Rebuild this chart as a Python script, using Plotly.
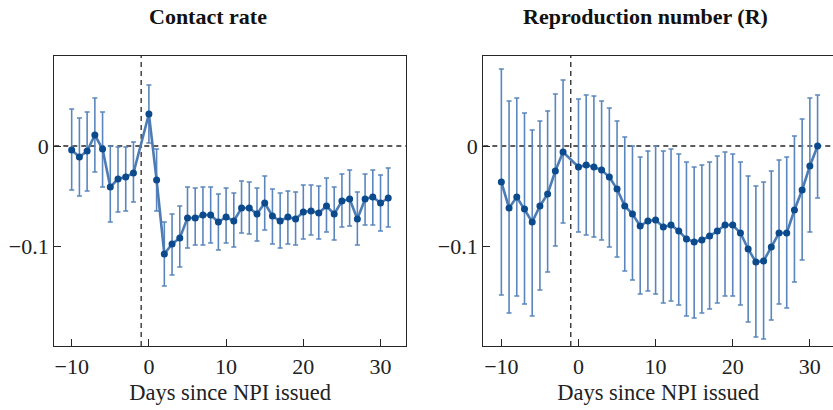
import plotly.graph_objects as go

days = [-10, -9, -8, -7, -6, -5, -4, -3, -2, 0, 1, 2, 3, 4, 5, 6, 7, 8, 9, 10,
        11, 12, 13, 14, 15, 16, 17, 18, 19, 20, 21, 22, 23, 24, 25, 26, 27, 28, 29, 30, 31]

contact_mean = [-0.004, -0.011, -0.005, 0.011, -0.003, -0.041, -0.033, -0.031, -0.027, 0.032,
                -0.034, -0.108, -0.098, -0.092, -0.072, -0.072, -0.069, -0.069, -0.076, -0.071,
                -0.075, -0.062, -0.062, -0.068, -0.057, -0.070, -0.075, -0.071, -0.073, -0.066,
                -0.065, -0.067, -0.060, -0.068, -0.055, -0.053, -0.073, -0.053, -0.051, -0.057, -0.052]
contact_hi = [0.037, 0.028, 0.034, 0.048, 0.034, 0.000, -0.001, -0.001, 0.004, 0.061,
              -0.003, -0.076, -0.068, -0.060, -0.041, -0.042, -0.041, -0.041, -0.048, -0.042,
              -0.047, -0.035, -0.036, -0.042, -0.030, -0.043, -0.047, -0.045, -0.046, -0.039,
              -0.039, -0.040, -0.032, -0.041, -0.028, -0.024, -0.046, -0.028, -0.024, -0.029, -0.022]
contact_lo = [-0.044, -0.050, -0.045, -0.026, -0.041, -0.076, -0.066, -0.065, -0.056, 0.003,
              -0.065, -0.140, -0.129, -0.121, -0.102, -0.099, -0.099, -0.097, -0.104, -0.097,
              -0.101, -0.087, -0.088, -0.095, -0.084, -0.098, -0.102, -0.098, -0.099, -0.093,
              -0.089, -0.093, -0.086, -0.094, -0.081, -0.080, -0.099, -0.079, -0.079, -0.085, -0.081]

r_mean = [-0.036, -0.062, -0.051, -0.063, -0.076, -0.060, -0.048, -0.025, -0.006, -0.021,
          -0.019, -0.021, -0.024, -0.031, -0.043, -0.060, -0.068, -0.080, -0.075, -0.074,
          -0.081, -0.079, -0.085, -0.093, -0.096, -0.094, -0.090, -0.085, -0.079, -0.079,
          -0.087, -0.103, -0.116, -0.115, -0.101, -0.087, -0.087, -0.064, -0.044, -0.020, 0.000]
r_hi = [0.077, 0.045, 0.048, 0.033, 0.016, 0.025, 0.035, 0.052, 0.066, 0.047,
        0.051, 0.050, 0.045, 0.038, 0.025, 0.009, 0.000, -0.011, -0.005, 0.000,
        -0.005, -0.003, -0.008, -0.016, -0.021, -0.019, -0.016, -0.010, -0.006, -0.008,
        -0.016, -0.030, -0.040, -0.036, -0.025, -0.014, -0.011, 0.010, 0.027, 0.048, 0.051]
r_lo = [-0.149, -0.167, -0.150, -0.158, -0.170, -0.144, -0.126, -0.100, -0.077, -0.086,
        -0.089, -0.091, -0.094, -0.101, -0.111, -0.125, -0.134, -0.148, -0.145, -0.148,
        -0.157, -0.155, -0.159, -0.170, -0.172, -0.167, -0.163, -0.157, -0.150, -0.150,
        -0.159, -0.176, -0.191, -0.193, -0.174, -0.158, -0.162, -0.136, -0.114, -0.086, -0.052]

panel_titles = ["Contact rate", "Reproduction number (R)"]
x_title = "Days since NPI issued"
x_ticks = [-10, 0, 10, 20, 30]
y_ticks = [0, -0.1]
y_ticklabels = ["0", "\u22120.1"]
x_ticklabels = ["\u221210", "0", "10", "20", "30"]

LINE = "#4d7cb4"
MARK = "#0b4a8c"
ERR = "#5a86bd"
AX = "#262626"
FONT = "Liberation Serif"

fig = go.Figure()

def add_series(mean, lo, hi, xa, ya):
    plus = [h - m for h, m in zip(hi, mean)]
    minus = [m - l for m, l in zip(mean, lo)]
    fig.add_trace(go.Scatter(
        x=days, y=mean, xaxis=xa, yaxis=ya, mode="lines+markers",
        line=dict(color=LINE, width=2.6),
        marker=dict(color=MARK, size=7),
        error_y=dict(type="data", symmetric=False, array=plus, arrayminus=minus,
                     color=ERR, thickness=1.6, width=2.5),
        showlegend=False, hoverinfo="skip"))

add_series(contact_mean, contact_lo, contact_hi, "x", "y")
add_series(r_mean, r_lo, r_hi, "x2", "y2")

axis_common = dict(
    showgrid=False, zeroline=False, showline=True, linecolor=AX, linewidth=1.3,
    ticks="inside", ticklen=7, tickwidth=1.2, tickcolor=AX,
    tickfont=dict(family=FONT, size=22, color="#222"),
)

fig.update_layout(
    width=833, height=410, margin=dict(l=0, r=0, t=0, b=0),
    paper_bgcolor="white", plot_bgcolor="white",
    font=dict(family=FONT, color="#222"),
    xaxis=dict(domain=[0.0652, 0.4874], range=[-12.25, 33.3], tickvals=x_ticks,
               ticktext=x_ticklabels, mirror=True, anchor="y",
               title=dict(text=x_title, font=dict(family=FONT, size=22.5), standoff=6),
               **axis_common),
    yaxis=dict(domain=[0.1561, 0.8634], range=[-0.2, 0.09], tickvals=y_ticks,
               ticktext=y_ticklabels, mirror=True, anchor="x", **axis_common),
    xaxis2=dict(domain=[0.5802, 1.0], range=[-12.34, 33.0], tickvals=x_ticks,
                ticktext=x_ticklabels, mirror=True, anchor="y2",
                title=dict(text=x_title, font=dict(family=FONT, size=22.5), standoff=6),
                **axis_common),
    yaxis2=dict(domain=[0.1561, 0.8634], range=[-0.2, 0.09], tickvals=y_ticks,
                ticktext=y_ticklabels, mirror=False, anchor="x2", **axis_common),
)

for xa, ya in [("x", "y"), ("x2", "y2")]:
    fig.add_shape(type="line", xref=f"{xa} domain", yref=ya, x0=0, x1=1, y0=0, y1=0,
                  line=dict(color=AX, width=1.3, dash="5px,4px"), layer="below")
    fig.add_shape(type="line", xref=xa, yref=f"{ya} domain", x0=-1, x1=-1, y0=0, y1=1,
                  line=dict(color=AX, width=1.3, dash="5px,4px"), layer="below")

for title, xc in zip(panel_titles, [0.2495, 0.7745]):
    fig.add_annotation(text=f"<b>{title}</b>", xref="paper", yref="paper", x=xc, y=1 - 16 / 410,
                       xanchor="center", yanchor="middle", showarrow=False,
                       font=dict(family=FONT, size=22, color="#111"))

fig.write_html("out.html")
